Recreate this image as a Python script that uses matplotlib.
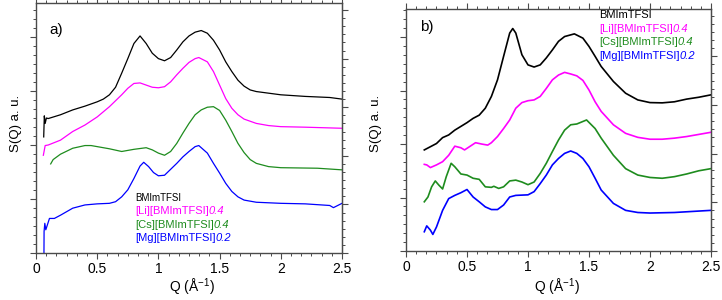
import numpy as np
import matplotlib
matplotlib.use('Agg')
import matplotlib.pyplot as plt
from matplotlib.ticker import MultipleLocator, AutoMinorLocator, FormatStrFormatter

plt.rcParams['font.family'] = ['Liberation Sans', 'DejaVu Sans']
plt.rcParams['mathtext.fontset'] = 'custom'
plt.rcParams['mathtext.rm'] = 'Liberation Sans'

##############################
#    panel a) data
##############################
qa_bmim = [0.063, 0.068, 0.075, 0.085, 0.1, 0.2, 0.3, 0.4, 0.5, 0.55, 0.6, 0.65, 0.7, 0.75, 0.8,
           0.85, 0.9, 0.95, 1.0, 1.05, 1.1, 1.15, 1.2, 1.25, 1.3, 1.35, 1.4, 1.45, 1.5, 1.55, 1.6,
           1.65, 1.7, 1.75, 1.8, 1.9, 2.0, 2.2, 2.4, 2.5]
sa_bmim = [21.5, 25.4, 24.0, 25.0, 24.9, 25.6, 26.5, 27.2, 28.0, 28.5, 29.3, 30.7, 33.3, 36.0, 38.8,
           40.2, 38.8, 37.0, 36.0, 35.6, 36.2, 37.6, 39.1, 40.2, 40.9, 41.2, 40.7, 39.4, 37.6, 35.4, 33.6,
           32.0, 30.9, 30.2, 29.9, 29.6, 29.3, 29.0, 28.8, 28.5]

qa_li = [0.06, 0.075, 0.1, 0.2, 0.3, 0.4, 0.5, 0.6, 0.7, 0.75, 0.8, 0.85, 0.9, 0.95, 1.0, 1.05,
         1.1, 1.15, 1.2, 1.25, 1.3, 1.33, 1.4, 1.45, 1.5, 1.55, 1.6, 1.65, 1.7, 1.8, 1.9, 2.0, 2.2, 2.5]
sa_li = [18.1, 19.9, 20.0, 20.9, 22.5, 23.7, 25.2, 27.1, 29.3, 30.5, 31.4, 31.5, 31.1, 30.7, 30.6, 30.8,
         31.7, 33.0, 34.2, 35.3, 36.0, 36.2, 35.4, 33.6, 31.1, 28.6, 26.8, 25.6, 24.8, 24.0, 23.6, 23.4, 23.3, 23.1]

qa_cs = [0.12, 0.14, 0.2, 0.3, 0.4, 0.45, 0.5, 0.6, 0.7, 0.8, 0.9, 0.95, 1.0, 1.05, 1.1, 1.15, 1.2,
         1.25, 1.3, 1.35, 1.4, 1.45, 1.5, 1.55, 1.6, 1.65, 1.7, 1.75, 1.8, 1.9, 2.0, 2.3, 2.5]
sa_cs = [16.5, 17.3, 18.3, 19.4, 19.9, 19.9, 19.7, 19.3, 18.8, 19.2, 19.5, 19.1, 18.5, 18.1, 18.8, 20.3, 22.2,
         24.0, 25.6, 26.5, 27.0, 27.1, 26.4, 24.6, 22.5, 20.3, 18.6, 17.3, 16.6, 16.0, 15.8, 15.7, 15.4]

qa_mg = [0.065, 0.066, 0.072, 0.08, 0.09, 0.11, 0.15, 0.2, 0.3, 0.4, 0.5, 0.6, 0.65, 0.7, 0.75, 0.8,
         0.85, 0.88, 0.92, 0.96, 1.0, 1.05, 1.1, 1.15, 1.2, 1.25, 1.3, 1.33, 1.4, 1.45, 1.5, 1.55, 1.6,
         1.65, 1.7, 1.8, 2.0, 2.2, 2.4, 2.43, 2.5]
sa_mg = [0.0, 4.0, 5.5, 4.3, 5.0, 6.4, 6.4, 7.0, 8.3, 8.9, 9.1, 9.2, 9.5, 10.4, 11.7, 13.8,
         16.1, 16.8, 16.0, 14.9, 14.3, 14.4, 15.5, 16.6, 17.8, 18.8, 19.7, 19.9, 18.5, 16.6, 14.8, 12.9, 11.4,
         10.4, 9.8, 9.4, 9.2, 9.1, 8.8, 8.4, 9.2]

##############################
#    panel b) data
##############################
qb_bmim = [0.15, 0.2, 0.25, 0.3, 0.35, 0.4, 0.45, 0.5, 0.55, 0.6, 0.65, 0.7, 0.75, 0.8, 0.85, 0.875,
           0.9, 0.95, 1.0, 1.05, 1.1, 1.15, 1.2, 1.25, 1.3, 1.38, 1.45, 1.5, 1.55, 1.6, 1.7, 1.8, 1.9,
           2.0, 2.1, 2.2, 2.3, 2.4, 2.5]
sb_bmim = [18.9, 19.5, 20.1, 21.2, 21.7, 22.6, 23.3, 24.0, 24.8, 25.4, 26.7, 28.9, 32.0, 36.4, 40.75, 41.6,
           40.75, 36.7, 34.8, 34.4, 34.8, 36.1, 37.6, 39.2, 40.1, 40.6, 39.8, 38.25, 36.4, 34.5, 31.7, 29.5, 28.25,
           27.75, 27.7, 27.9, 28.4, 28.75, 29.2]

qb_li = [0.15, 0.17, 0.2, 0.25, 0.3, 0.35, 0.4, 0.45, 0.48, 0.52, 0.57, 0.62, 0.67, 0.7, 0.75, 0.8,
         0.85, 0.9, 0.95, 1.0, 1.05, 1.1, 1.15, 1.2, 1.25, 1.3, 1.35, 1.4, 1.45, 1.5, 1.55, 1.6, 1.7,
         1.8, 1.9, 2.0, 2.1, 2.2, 2.3, 2.4, 2.5]
sb_li = [16.2, 16.1, 15.6, 16.1, 16.7, 17.9, 19.6, 19.3, 18.9, 19.5, 20.25, 20.0, 19.8, 20.25, 21.4, 22.9,
         24.5, 26.7, 27.75, 28.1, 28.25, 28.9, 30.4, 32.0, 32.9, 33.4, 33.1, 32.75, 31.9, 30.1, 27.9, 26.1, 23.6,
         22.0, 21.25, 20.9, 20.9, 21.1, 21.4, 21.8, 22.2]

qb_cs = [0.15, 0.18, 0.21, 0.24, 0.27, 0.3, 0.33, 0.37, 0.4, 0.45, 0.5, 0.55, 0.6, 0.65, 0.7, 0.72,
         0.76, 0.8, 0.85, 0.9, 0.95, 1.0, 1.05, 1.1, 1.15, 1.2, 1.25, 1.3, 1.35, 1.4, 1.48, 1.55, 1.6,
         1.7, 1.8, 1.9, 2.0, 2.1, 2.2, 2.3, 2.4, 2.5]
sb_cs = [9.2, 10.1, 12.0, 13.1, 12.3, 11.6, 13.9, 16.4, 15.75, 14.4, 14.2, 13.6, 13.4, 12.0, 11.9, 12.1,
         11.7, 12.0, 13.1, 13.25, 12.9, 12.4, 12.9, 14.5, 16.4, 18.6, 20.75, 22.6, 23.6, 23.75, 24.5, 22.9, 21.1,
         17.9, 15.4, 14.2, 13.75, 13.6, 13.9, 14.4, 15.0, 15.4]

qb_mg = [0.15, 0.17, 0.2, 0.22, 0.25, 0.3, 0.35, 0.4, 0.45, 0.5, 0.55, 0.6, 0.65, 0.7, 0.75, 0.8,
         0.85, 0.9, 1.0, 1.05, 1.1, 1.15, 1.2, 1.25, 1.3, 1.35, 1.4, 1.45, 1.5, 1.55, 1.6, 1.7, 1.8,
         1.9, 2.0, 2.2, 2.5]
sb_mg = [3.6, 4.7, 3.9, 3.1, 4.5, 7.6, 9.8, 10.4, 10.9, 11.5, 10.1, 9.2, 8.25, 7.75, 7.75, 8.6,
         10.1, 10.4, 10.5, 11.1, 12.6, 14.2, 16.1, 17.3, 18.25, 18.7, 18.25, 17.3, 15.75, 13.6, 11.4, 8.9, 7.6,
         7.2, 7.1, 7.2, 7.6]

names = ['BMImTFSI', '[Li][BMImTFSI]', '[Cs][BMImTFSI]', '[Mg][BMImTFSI]']
ratios = ['', '0.4', '0.4', '0.2']
colors = ['black', '#ff00ff', '#1e8c1e', '#0000ff']

frame_col = '#4a4a4a'


def style_axes(ax, ytop, rscale):
    ax.set_xlim(0, 2.5)
    ax.set_ylim(0, ytop)
    ax.xaxis.set_major_locator(MultipleLocator(0.5))
    ax.xaxis.set_minor_locator(AutoMinorLocator(6))
    ax.xaxis.set_major_formatter(FormatStrFormatter('%g'))
    ax.yaxis.set_major_locator(MultipleLocator(10))
    ax.yaxis.set_minor_locator(AutoMinorLocator(6))
    ax.tick_params(which='both', direction='out', top=True, right=False, color=frame_col,
                   labelleft=False, labelsize=10, pad=2.5)
    ax.tick_params(which='major', length=4, width=0.8)
    ax.tick_params(which='minor', length=2.3, width=0.7)
    for s in ax.spines.values():
        s.set_color(frame_col)
        s.set_linewidth(1.0)
    sec = ax.secondary_yaxis('right', functions=(lambda y: y / rscale, lambda r: r * rscale))
    sec.yaxis.set_major_locator(MultipleLocator(1))
    sec.yaxis.set_minor_locator(AutoMinorLocator(6))
    sec.tick_params(which='both', direction='out', color=frame_col, labelright=False)
    sec.tick_params(which='major', length=4, width=0.8)
    sec.tick_params(which='minor', length=2.3, width=0.7)
    sec.spines['right'].set_color(frame_col)


def legend_text(ax, x, y, i, size):
    t = ax.text(x, y, names[i], transform=ax.transAxes, color=colors[i],
                fontsize=size, va='center', ha='left')
    if ratios[i]:
        ax.annotate(ratios[i], xy=(1, 0), xycoords=t, va='bottom', ha='left',
                    color=colors[i], fontsize=size, fontstyle='italic')


fig = plt.figure(figsize=(7.22, 3.0), dpi=100)
ax1 = fig.add_axes([36 / 722, 47 / 300, 306 / 722, 250 / 300])
ax2 = fig.add_axes([406 / 722, 49 / 300, 305 / 722, 242 / 300])

# panel a
ax1.plot(qa_bmim, sa_bmim, color=colors[0], lw=0.9)
ax1.plot(qa_li, sa_li, color=colors[1], lw=0.9)
ax1.plot(qa_cs, sa_cs, color=colors[2], lw=0.9)
ax1.plot(qa_mg, sa_mg, color=colors[3], lw=0.9)
style_axes(ax1, 46.3, 9.0)
ax1.text(0.043, 0.892, 'a)', transform=ax1.transAxes, fontsize=11, va='center', ha='left')
ya = [0.22, 0.166, 0.113, 0.06]
for i in range(4):
    legend_text(ax1, 0.324, ya[i], i, 7.0 if i == 0 else 8.0)

# panel b
ax2.plot(qb_bmim, sb_bmim, color=colors[0], lw=1.2)
ax2.plot(qb_li, sb_li, color=colors[1], lw=1.2)
ax2.plot(qb_cs, sb_cs, color=colors[2], lw=1.2)
ax2.plot(qb_mg, sb_mg, color=colors[3], lw=1.2)
style_axes(ax2, 45.25, 9.1)
ax2.text(0.047, 0.924, 'b)', transform=ax2.transAxes, fontsize=11, va='center', ha='left')
yb = [0.975, 0.918, 0.862, 0.806]
for i in range(4):
    legend_text(ax2, 0.633, yb[i], i, 8.0)

# axis labels
for xc in [16, 376]:
    fig.text(xc / 722, 1 - 123 / 300, 'S(Q) a. u.', rotation=90, ha='center', va='center', fontsize=9.5)
for xc in [192, 557]:
    fig.text(xc / 722, 1 - 287 / 300, 'Q (Å$^{-1}$)', ha='center', va='center', fontsize=10)

fig.savefig('out.png', dpi=100)
